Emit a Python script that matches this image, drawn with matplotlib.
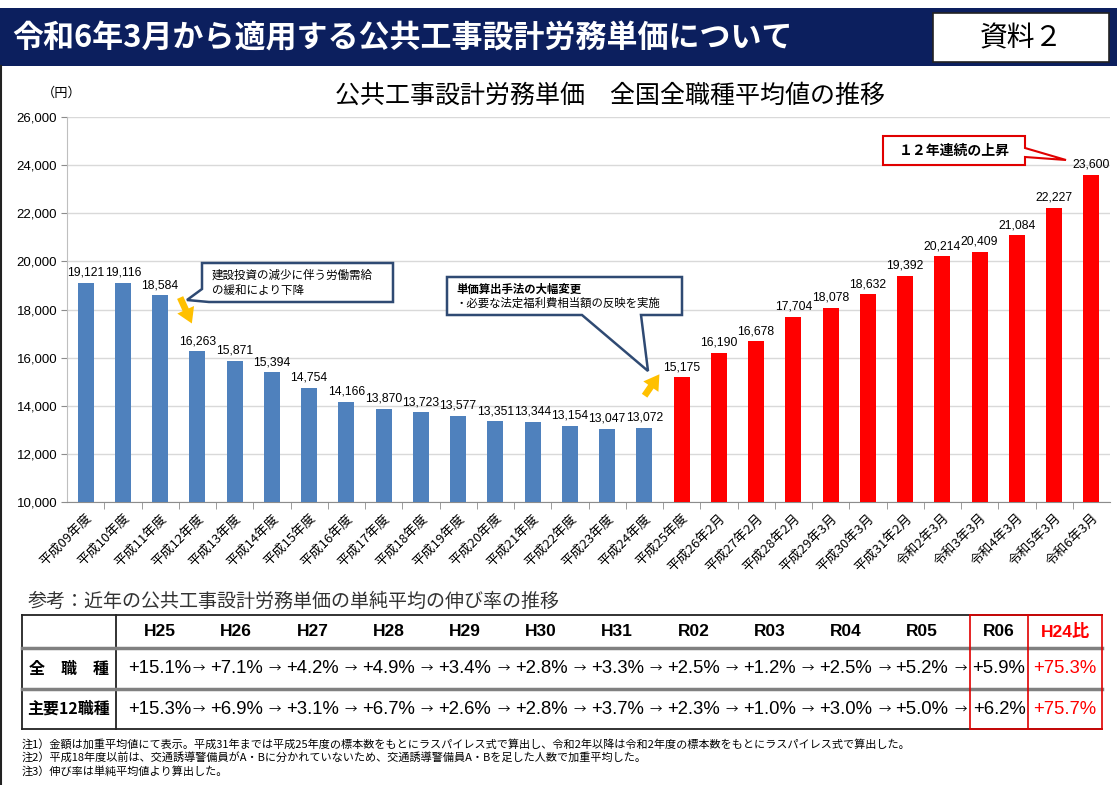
import matplotlib
matplotlib.use("Agg")
import matplotlib.pyplot as plt
from matplotlib.transforms import Affine2D
from matplotlib.patches import Polygon, Rectangle, FancyArrowPatch
from matplotlib.lines import Line2D
from matplotlib.ticker import FuncFormatter, FixedLocator

JP = "Noto Sans CJK JP"
LAT = ["Liberation Sans", JP]
plt.rcParams["font.family"] = [JP, "DejaVu Sans"]

# ---------------- data ----------------
categories = ["平成09年度", "平成10年度", "平成11年度", "平成12年度", "平成13年度",
              "平成14年度", "平成15年度", "平成16年度", "平成17年度", "平成18年度",
              "平成19年度", "平成20年度", "平成21年度", "平成22年度", "平成23年度",
              "平成24年度", "平成25年度", "平成26年2月", "平成27年2月", "平成28年2月",
              "平成29年3月", "平成30年3月", "平成31年2月", "令和2年3月", "令和3年3月",
              "令和4年3月", "令和5年3月", "令和6年3月"]
values = [19121, 19116, 18584, 16263, 15871, 15394, 14754, 14166, 13870, 13723,
          13577, 13351, 13344, 13154, 13047, 13072, 15175, 16190, 16678, 17704,
          18078, 18632, 19392, 20214, 20409, 21084, 22227, 23600]
n_old = 16  # 平成09年度〜平成24年度 (blue)
yticks = [10000, 12000, 14000, 16000, 18000, 20000, 22000, 24000, 26000]

table_years = ["H25", "H26", "H27", "H28", "H29", "H30", "H31", "R02", "R03", "R04", "R05", "R06", "H24比"]
rates_all = ["+15.1%", "+7.1%", "+4.2%", "+4.9%", "+3.4%", "+2.8%", "+3.3%", "+2.5%",
             "+1.2%", "+2.5%", "+5.2%", "+5.9%", "+75.3%"]
rates_major12 = ["+15.3%", "+6.9%", "+3.1%", "+6.7%", "+2.6%", "+2.8%", "+3.7%", "+2.3%",
                 "+1.0%", "+3.0%", "+5.0%", "+6.2%", "+75.7%"]
row_labels = ["全　職　種", "主要12職種"]

header_title = "令和6年3月から適用する公共工事設計労務単価について"
doc_label = "資料２"
chart_title = "公共工事設計労務単価　全国全職種平均値の推移"
notes = ["注1）金額は加重平均値にて表示。平成31年までは平成25年度の標本数をもとにラスパイレス式で算出し、令和2年以降は令和2年度の標本数をもとにラスパイレス式で算出した。",
         "注2）平成18年度以前は、交通誘導警備員がA・Bに分かれていないため、交通誘導警備員A・Bを足した人数で加重平均した。",
         "注3）伸び率は単純平均値より算出した。"]

# ---------------- figure ----------------
W, H = 1117, 785
fig = plt.figure(figsize=(W / 100, H / 100), dpi=100)
fig.patch.set_facecolor("white")
P = Affine2D().scale(1 / W, -1 / H).translate(0, 1) + fig.transFigure  # pixel coords from top-left

NAVY = "#0c1f5e"
BLUE = "#4f81bd"
RED = "#ff0000"
YEL = "#ffc000"
BOXC = "#2f4a73"

# header band
fig.patches.append(Rectangle((0, 8), W, 58, transform=P, facecolor=NAVY, edgecolor="none", zorder=0))
fig.text(12 / W, 1 - 38 / H, header_title, transform=fig.transFigure, color="white",
         fontsize=22.3, fontweight="bold", ha="left", va="center", family=JP)
fig.patches.append(Rectangle((933, 13), 176, 49, transform=P, facecolor="white",
                             edgecolor="#222222", lw=1.2, zorder=1))
fig.text(1021 / W, 1 - 38 / H, doc_label, fontsize=20, ha="center", va="center", family=JP, zorder=2)
# left page border
fig.lines.append(Line2D([1, 1], [66, 785], transform=P, color="#222222", lw=1.5))

# chart title and unit
fig.text(610 / W, 1 - 96 / H, chart_title, fontsize=18, ha="center", va="center", family=JP)
fig.text(62 / W, 1 - 93 / H, "（円）", fontsize=9.5, ha="center", va="center", family=JP)

# ---------------- bar chart ----------------
ax_l, ax_r, ax_t, ax_b = 67, 1110, 117, 502
ax = fig.add_axes([ax_l / W, 1 - ax_b / H, (ax_r - ax_l) / W, (ax_b - ax_t) / H])
x = list(range(len(values)))
colors = [BLUE] * n_old + [RED] * (len(values) - n_old)
ax.bar(x, values, width=0.43, color=colors, zorder=3)
ax.set_ylim(10000, 26000)
ax.set_xlim(-0.5, len(values) - 0.5)
ax.yaxis.set_major_locator(FixedLocator(yticks))
ax.yaxis.set_major_formatter(FuncFormatter(lambda v, p: f"{int(v):,}"))
ax.grid(axis="y", color="#d9d9d9", lw=1, zorder=0)
ax.set_axisbelow(True)
for s in ["top", "right"]:
    ax.spines[s].set_visible(False)
ax.spines["left"].set_color("#bfbfbf")
ax.spines["bottom"].set_color("#8c8c8c")
ax.tick_params(axis="y", length=4, color="#8c8c8c", labelsize=9.5, pad=3)
for t in ax.get_yticklabels():
    t.set_family(LAT)
ax.set_xticks(x)
ax.set_xticklabels(categories, rotation=45, ha="right", va="top", rotation_mode="anchor",
                   fontsize=9.5, family=[JP])
ax.tick_params(axis="x", which="major", length=0, pad=7)
ax.set_xticks([i + 0.5 for i in range(len(values) - 1)], minor=True)
ax.tick_params(axis="x", which="minor", length=5, color="#8c8c8c")
for i, v in enumerate(values):
    ax.annotate(f"{v:,}", (i, v), xytext=(0, 3), textcoords="offset points",
                ha="center", va="bottom", fontsize=8.7, family=LAT)

# ---------------- callouts ----------------
box1 = [(202, 263), (393, 263), (393, 302), (209, 302), (187, 300), (202, 289)]
fig.patches.append(Polygon(box1, closed=True, transform=P, facecolor="white", edgecolor=BOXC, lw=1.8, zorder=5))
fig.text(212 / W, 1 - 275 / H, "建設投資の減少に伴う労働需給", fontsize=8.3, va="center", ha="left", zorder=6)
fig.text(212 / W, 1 - 290 / H, "の緩和により下降", fontsize=8.3, va="center", ha="left", zorder=6)

box2 = [(447, 277), (682, 277), (682, 315), (641, 315), (648, 371), (582, 315), (447, 315)]
fig.patches.append(Polygon(box2, closed=True, transform=P, facecolor="white", edgecolor=BOXC, lw=1.8, zorder=5))
fig.text(456 / W, 1 - 289 / H, "単価算出手法の大幅変更", fontsize=8.2, fontweight="bold", va="center", ha="left", zorder=6)
fig.text(456 / W, 1 - 303 / H, "・必要な法定福利費相当額の反映を実施", fontsize=8.2, va="center", ha="left", zorder=6)

box3 = [(883, 136), (1025, 136), (1025, 148), (1066, 160), (1025, 157), (1025, 165), (883, 165)]
fig.patches.append(Polygon(box3, closed=True, transform=P, facecolor="white", edgecolor="#e00000", lw=1.5, zorder=5))
fig.text(954 / W, 1 - 151 / H, "１２年連続の上昇", fontsize=10, fontweight="bold", va="center", ha="center", zorder=6)

for a, b in [((179, 295), (193, 326)), ((643, 398), (661, 372))]:
    fig.patches.append(FancyArrowPatch(a, b, transform=P, arrowstyle="simple,head_width=1.1,head_length=0.9,tail_width=0.4",
                                       mutation_scale=12, color=YEL, lw=0, zorder=6))

# ---------------- table ----------------
fig.text(28 / W, 1 - 601 / H, "参考：近年の公共工事設計労務単価の単純平均の伸び率の推移", fontsize=13.7,
         color="#333333", ha="left", va="center", family=JP)
tl, tr, tt, tb = 22, 1102, 615, 729
c0 = 116
r1, r2 = 648, 689
red_l, red_m = 970, 1028
centers = [160 + 76.2 * i for i in range(11)] + [(red_l + red_m) / 2, (red_m + tr) / 2]

def seg(xs, ys, color, lw, z=7):
    fig.lines.append(Line2D(xs, ys, transform=P, color=color, lw=lw, zorder=z))

seg([tl, tr], [tt, tt], "#222222", 1.3)
seg([tl, tr], [tb, tb], "#222222", 1.3)
seg([tl, tl], [tt, tb], "#222222", 1.3)
seg([c0, c0], [tt, tb], "#222222", 1.3)
seg([tl, tr], [r1, r1], "#808080", 2.5)
seg([tl, tr], [r2, r2], "#808080", 2.5)
for xx in [red_l, red_m, tr]:
    seg([xx, xx], [tt, tb], "#e00000", 1.2, 8)
seg([red_l, tr], [tt, tt], "#e00000", 1.2, 8)
seg([red_l, tr], [tb, tb], "#e00000", 1.2, 8)

hy = (tt + r1) / 2
for i, (c, yr) in enumerate(zip(centers, table_years)):
    fig.text(c / W, 1 - hy / H, yr, fontsize=12.5, fontweight="bold", ha="center", va="center",
             family=LAT, color=RED if i == len(table_years) - 1 else "black")
for row_y, lab, vals in [((r1 + r2) / 2, row_labels[0], rates_all), ((r2 + tb) / 2, row_labels[1], rates_major12)]:
    fig.text((tl + c0) / 2 / W, 1 - row_y / H, lab, fontsize=11.5, fontweight="bold", ha="center", va="center", family=JP)
    for i, (c, v) in enumerate(zip(centers, vals)):
        fig.text(c / W, 1 - row_y / H, v, fontsize=13.3, ha="center", va="center", family=LAT,
                 color=RED if i == len(vals) - 1 else "black")
        if i < 11:
            fig.text((c + 38.5) / W, 1 - row_y / H, "→", fontsize=9, ha="center", va="center", family=JP)

for k, note in enumerate(notes):
    fig.text(22 / W, 1 - (744 + 13.5 * k) / H, note, fontsize=8, ha="left", va="center", family=JP)

fig.savefig("out.png", dpi=100, facecolor="white")
